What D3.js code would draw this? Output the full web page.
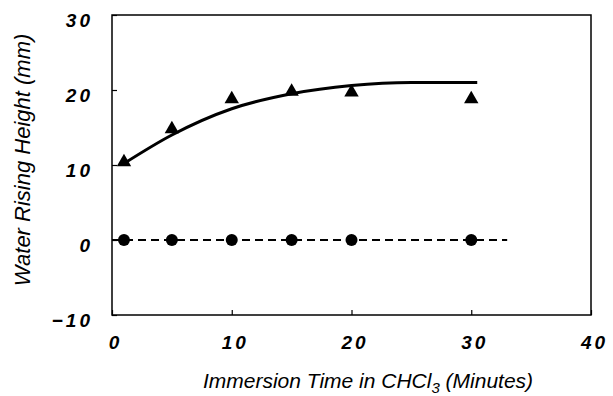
<html>
<head>
<style type="text/css">
	body { margin: 0; background: white; }
	.tick-label { font-family: "Liberation Sans", Arial, sans-serif; font-weight: bold; font-style: italic; font-size: 19px; letter-spacing: 3px; }
	.axis-title { font-family: "Liberation Sans", Arial, sans-serif; font-style: italic; font-size: 21px; }
	.axis path { display: none; }
	.axis line { stroke: black; stroke-width: 1.2; }
	.frame { fill: none; stroke: black; stroke-width: 1.5; }
	.line.fit { fill: none; stroke: black; stroke-width: 3; }
	.line.zero { fill: none; stroke: black; stroke-width: 2.2; stroke-dasharray: 8,5; }
</style>
<script src="https://d3js.org/d3.v7.min.js"></script>
</head>
<body>
<script type="text/javascript">
	// immersion times (minutes)
	var times = [1, 5, 10, 15, 20, 30];
	// treated sample: triangles
	var rise_treated = [10.4, 14.8, 18.8, 19.8, 19.7, 18.8];
	// untreated sample: circles
	var rise_untreated = [0, 0, 0, 0, 0, 0];
	// fitted trend curve
	var fit_x = [1, 5, 10, 15, 20, 25, 30.5];
	var fit_y = [10.2, 14.0, 17.5, 19.5, 20.6, 21.0, 21.0];
	// dashed baseline extent
	var base_x = [0, 33];
	var base_y = [0, 0];

	var x_ticks = [0, 10, 20, 30, 40];
	var y_ticks = [30, 20, 10, 0, -10];

	var W = 613, H = 396;
	var pl = 112, pr = 591, pt = 15, pb = 315;

	var x = d3.scaleLinear().domain([0, 40]).range([pl, pr]);
	var y = d3.scaleLinear().domain([-10, 30]).range([pb, pt]);

	var svg = d3.select('body').append('svg')
		.attr('width', W).attr('height', H);

	var line = d3.line()
		.x(function(d) { return x(d[0]); })
		.y(function(d) { return y(d[1]); });

	// axes with inward ticks
	var yAxis = d3.axisLeft(y).tickValues(y_ticks).tickSizeInner(-5).tickSizeOuter(0).tickPadding(19)
		.tickFormat(function(d) { return d < 0 ? '\u2212' + Math.abs(d) : d; });
	var gy = svg.append('g').attr('class', 'y axis')
		.attr('transform', 'translate(' + pl + ',0)')
		.call(yAxis);
	gy.attr('font-size', null).attr('font-family', null);
	gy.selectAll('text').attr('class', 'tick-label').attr('dy', '0.6em');

	var xAxis = d3.axisBottom(x).tickValues(x_ticks).tickSizeInner(-5).tickSizeOuter(0).tickPadding(21);
	var gx = svg.append('g').attr('class', 'x axis')
		.attr('transform', 'translate(0,' + pb + ')')
		.call(xAxis);
	gx.attr('font-size', null).attr('font-family', null);
	gx.selectAll('text').attr('class', 'tick-label').attr('dx', '3px');

	svg.append('rect').attr('class', 'frame')
		.attr('x', pl).attr('y', pt)
		.attr('width', pr - pl).attr('height', pb - pt);

	// dashed zero line
	svg.append('path').attr('class', 'line zero')
		.attr('d', line(d3.zip(base_x, base_y)));

	// fitted curve
	svg.append('path').attr('class', 'line fit')
		.attr('d', line.curve(d3.curveMonotoneX)(d3.zip(fit_x, fit_y)));

	svg.selectAll('circle.untreated')
		.data(d3.zip(times, rise_untreated))
		.enter().append('circle')
			.attr('class', 'untreated')
			.attr('cx', function(d) { return x(d[0]); })
			.attr('cy', function(d) { return y(d[1]); })
			.attr('r', 6)
			.attr('fill', 'black');

	var tri = d3.symbol().type(d3.symbolTriangle).size(90);
	svg.selectAll('path.treated')
		.data(d3.zip(times, rise_treated))
		.enter().append('path')
			.attr('class', 'treated')
			.attr('d', tri)
			.attr('transform', function(d) { return 'translate(' + x(d[0]) + ',' + y(d[1]) + ')'; })
			.attr('fill', 'black');

	// axis titles
	var xt = svg.append('text').attr('class', 'axis-title')
		.attr('x', 368).attr('y', 388).attr('text-anchor', 'middle');
	xt.append('tspan').text('Immersion Time in CHCl');
	xt.append('tspan').attr('dy', 5).attr('font-size', 15).text('3');
	xt.append('tspan').attr('dy', -5).text(' (Minutes)');

	svg.append('text').attr('class', 'axis-title')
		.attr('transform', 'translate(30,160) rotate(-90)')
		.attr('text-anchor', 'middle')
		.style('font-size', '22px')
		.text('Water Rising Height (mm)');
</script>
</body>
</html>
